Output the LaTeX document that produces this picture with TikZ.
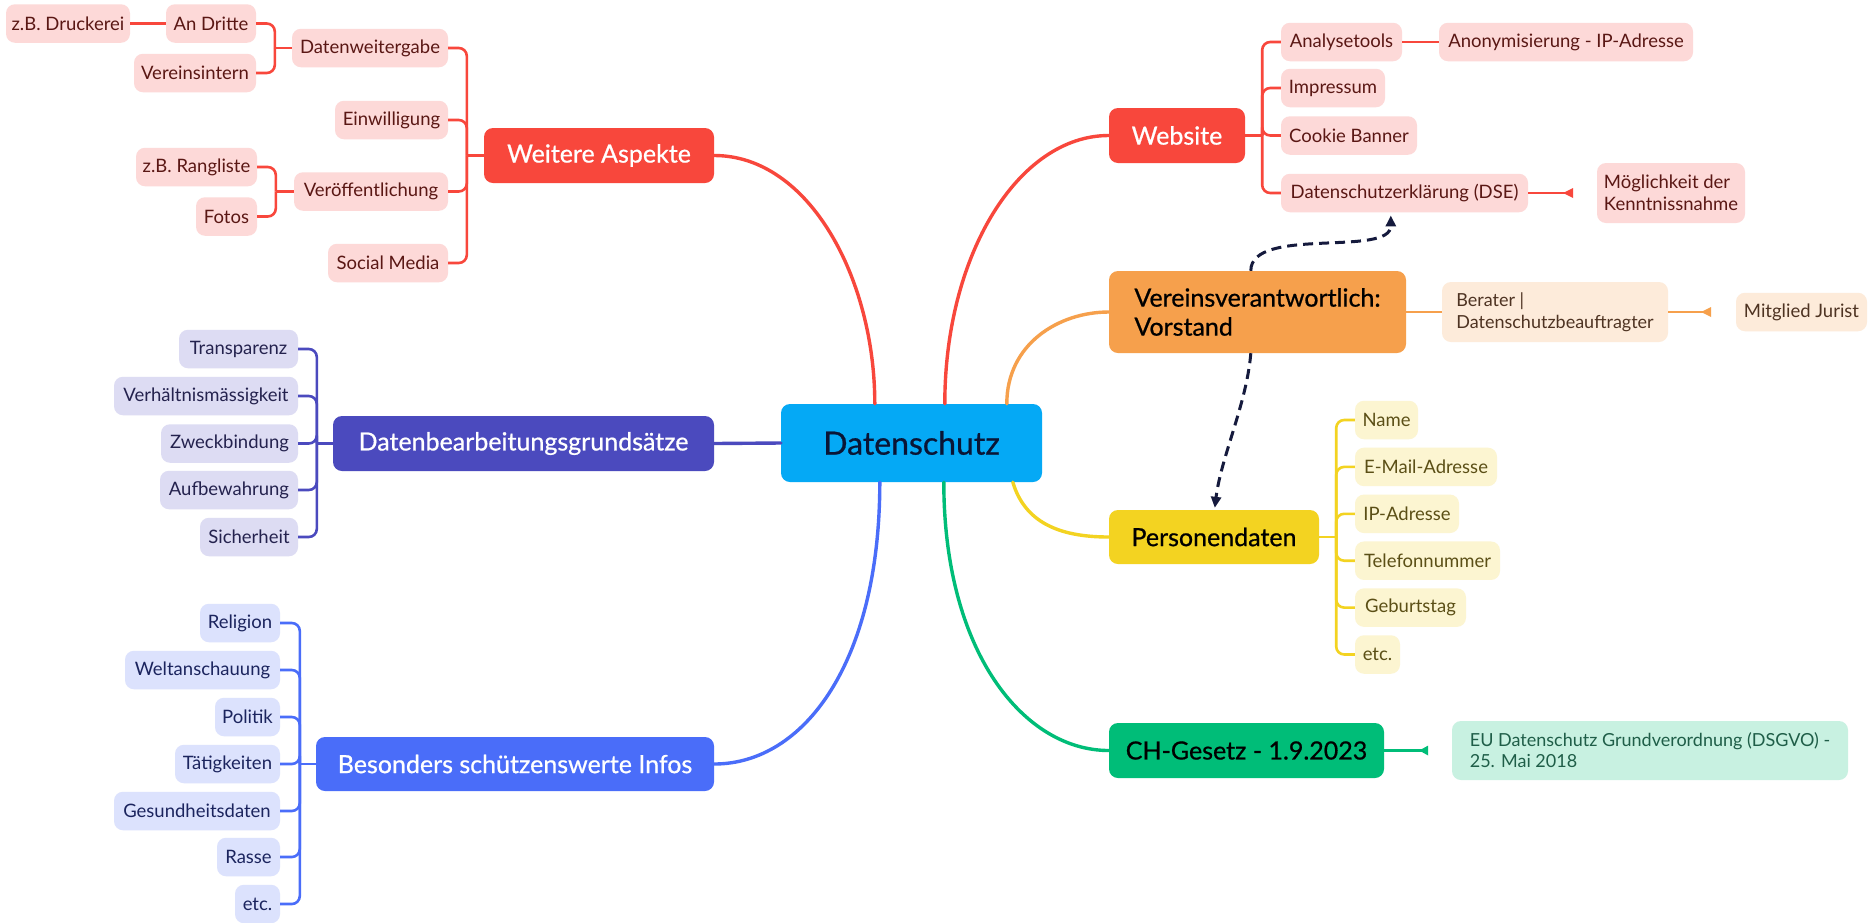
\documentclass[tikz,border=0pt]{standalone}
\usepackage{fontspec}
\setmainfont{Lato}
\newfontfamily\medfont{Lato}[FakeBold=0.7]
\usetikzlibrary{arrows.meta}
\definecolor{redm}{HTML}{F8473C}
\definecolor{redl}{HTML}{FDD9D8}
\definecolor{redt}{HTML}{5A1714}
\definecolor{orangem}{HTML}{F6A04C}
\definecolor{orangel}{HTML}{FDEBDA}
\definecolor{oranget}{HTML}{4E3322}
\definecolor{yellowm}{HTML}{F3D321}
\definecolor{yellowl}{HTML}{FCF5D1}
\definecolor{yellowt}{HTML}{5B4F16}
\definecolor{greenm}{HTML}{00BD78}
\definecolor{greenl}{HTML}{C8F1E1}
\definecolor{greent}{HTML}{1F5E48}
\definecolor{purplem}{HTML}{4B4ABE}
\definecolor{purplel}{HTML}{DDDCF3}
\definecolor{purplet}{HTML}{24224E}
\definecolor{bluem}{HTML}{4A6DF9}
\definecolor{bluel}{HTML}{DCE2FD}
\definecolor{bluet}{HTML}{1B245E}
\definecolor{centm}{HTML}{05A9F5}
\definecolor{centt}{HTML}{0A1535}
\definecolor{dashc}{HTML}{151A3D}
\newcommand\kidfont{\fontsize{18.5}{22}\selectfont}
\newcommand\topfont{\medfont\fontsize{25}{29}\selectfont}
\newcommand\cenfont{\medfont\fontsize{32}{36}\selectfont}
\tikzset{
  box/.style={rounded corners=9pt, inner sep=0pt, align=center, minimum height=38.5pt},
  rkid/.style={box, fill=redl, text=redt, font=\kidfont},
  okid/.style={box, fill=orangel, text=oranget, font=\kidfont},
  ykid/.style={box, fill=yellowl, text=yellowt, font=\kidfont},
  gkid/.style={box, fill=greenl, text=greent, font=\kidfont},
  pkid/.style={box, fill=purplel, text=purplet, font=\kidfont},
  bkid/.style={box, fill=bluel, text=bluet, font=\kidfont},
  topic/.style={box, font=\topfont, minimum height=55pt},
  mainline/.style={line width=3.4pt, line cap=round},
  subline/.style={line width=2.6pt, rounded corners=8pt},
  dashline/.style={dashc, line width=3pt, dash pattern=on 10pt off 6pt,
    -{Triangle[length=11pt,width=10pt]}},
}
\begin{document}
\begin{tikzpicture}[x=1pt,y=-1pt]
\useasboundingbox (0,0) rectangle (1870,922);
\fill[white] (0,0) rectangle (1870,922);

% central
\node[box, fill=centm, text=centt, font=\cenfont, minimum width=261pt, minimum height=78pt] (ds) at (911.5,443) {Datenschutz};

% main topics
\node[topic, fill=redm, text=white, minimum width=230pt] (weitere) at (599,155.5) {Weitere Aspekte};
\node[topic, fill=redm, text=white, minimum width=136pt] (web) at (1177,135.5) {Website};
\node[topic, fill=orangem, text=black, align=left, minimum width=297pt, minimum height=82pt, font=\medfont\fontsize{25}{29}\selectfont] (vor) at (1257.5,312) {Vereinsverantwortlich:\\Vorstand};
\node[topic, fill=yellowm, text=black, minimum width=210pt, minimum height=54pt] (pers) at (1214,537) {Personendaten};
\node[topic, fill=greenm, text=black, minimum width=275pt] (ch) at (1246.5,750.5) {CH-Gesetz - 1.9.2023};
\node[topic, fill=purplem, text=white, minimum width=381pt] (dbg) at (523.5,443.5) {Datenbearbeitungsgrundsätze};
\node[topic, fill=bluem, text=white, minimum width=398pt, minimum height=54pt] (bes) at (515,764) {Besonders schützenswerte Infos};

% Weitere Aspekte children
\node[rkid, minimum width=124pt] (druck) at (68,23.5) {z.B. Druckerei};
\node[rkid, minimum width=90pt] (andr) at (211,23.5) {An Dritte};
\node[rkid, minimum width=122pt] (verein) at (195,73) {Vereinsintern};
\node[rkid, minimum width=156pt] (dwg) at (370,48) {Datenweitergabe};
\node[rkid, minimum width=113pt] (einw) at (391.5,120) {Einwilligung};
\node[rkid, minimum width=121pt] (rang) at (196.5,167) {z.B. Rangliste};
\node[rkid, minimum width=61pt] (fotos) at (226.5,216.5) {Fotos};
\node[rkid, minimum width=154pt] (veroff) at (371,191.5) {Veröffentlichung};
\node[rkid, minimum width=120pt] (social) at (388,263) {Social Media};

% Website children
\node[rkid, minimum width=121pt] (anal) at (1341.5,42) {Analysetools};
\node[rkid, minimum width=254pt] (anon) at (1566,42) {Anonymisierung - IP-Adresse};
\node[rkid, minimum width=104pt] (impr) at (1333,88) {Impressum};
\node[rkid, minimum width=136pt] (cookie) at (1349,135.5) {Cookie Banner};
\node[rkid, minimum width=247pt] (dse) at (1404.5,193) {Datenschutzerklärung (DSE)};
\node[rkid, align=left, minimum width=148pt, minimum height=60pt] (mogl) at (1671,193) {Möglichkeit der\\Kenntnissnahme};

% Vorstand children
\node[okid, align=left, minimum width=226pt, minimum height=60pt, font=\fontsize{18}{22}\selectfont] (berater) at (1555,312) {Berater |\\Datenschutzbeauftragter};
\node[okid, minimum width=131pt] (jurist) at (1801.5,312) {Mitglied Jurist};

% Personendaten children
\node[ykid, minimum width=63pt] (name) at (1386.5,420) {Name};
\node[ykid, minimum width=142pt] (email) at (1426,466.9) {E-Mail-Adresse};
\node[ykid, minimum width=104pt] (ip) at (1407,513.8) {IP-Adresse};
\node[ykid, minimum width=145pt] (tel) at (1427.5,560.7) {Telefonnummer};
\node[ykid, minimum width=111pt] (geb) at (1410.5,607.6) {Geburtstag};
\node[ykid, minimum width=45pt] (etcy) at (1377.5,654.5) {etc.};

% CH children
\node[gkid, align=left, minimum width=396pt, minimum height=59pt, font=\fontsize{18}{21}\selectfont] (eu) at (1650,750.5) {EU Datenschutz Grundverordnung (DSGVO) -\\25. Mai 2018};

% DBG children
\node[pkid, minimum width=119pt] (transp) at (238.5,349) {Transparenz};
\node[pkid, minimum width=184pt] (verh) at (206,396) {Verhältnismässigkeit};
\node[pkid, minimum width=137pt] (zweck) at (229.5,443.5) {Zweckbindung};
\node[pkid, minimum width=138pt] (aufb) at (229,490) {Aufbewahrung};
\node[pkid, minimum width=98pt] (sich) at (249,537) {Sicherheit};

% Besonders children
\node[bkid, minimum width=80pt] (rel) at (240,623) {Religion};
\node[bkid, minimum width=155pt] (welt) at (202.5,670) {Weltanschauung};
\node[bkid, minimum width=65pt] (pol) at (247.5,717) {Politik};
\node[bkid, minimum width=105pt] (tat) at (227.5,764) {Tätigkeiten};
\node[bkid, minimum width=166pt] (ges) at (197,811) {Gesundheitsdaten};
\node[bkid, minimum width=63pt] (rasse) at (248.5,857) {Rasse};
\node[bkid, minimum width=45pt] (etcb) at (257.5,904) {etc.};

% main connectors
\draw[mainline, redm] (weitere.east) .. controls +(95,0) and +(0,-125) .. ([xshift=94pt]ds.north west);
\draw[mainline, redm] ([xshift=164pt]ds.north west) .. controls +(0,-150) and +(-90,0) .. (web.west);
\draw[mainline, orangem] ([xshift=226pt]ds.north west) .. controls +(0,-60) and +(-50,0) .. (vor.west);
\draw[mainline, yellowm] ([xshift=232pt]ds.south west) .. controls +(12,40) and +(-50,0) .. (pers.west);
\draw[mainline, greenm] ([xshift=163pt]ds.south west) .. controls +(0,170) and +(-85,0) .. (ch.west);
\draw[mainline, bluem] ([xshift=99pt]ds.south west) .. controls +(0,180) and +(90,0) .. (bes.east);
\draw[mainline, purplem] (ds.west) -- (dbg.east);

% Weitere Aspekte subtree
\coordinate (wA) at ([xshift=-17pt]weitere.west);
\draw[subline, redm] (weitere.west) -- (wA);
\foreach \c in {dwg,einw,veroff,social} \draw[subline, redm] (wA) |- (\c.east);
\coordinate (wB) at ([xshift=-17pt]dwg.west);
\draw[subline, redm] (dwg.west) -- (wB);
\foreach \c in {andr,verein} \draw[subline, redm] (wB) |- (\c.east);
\coordinate (wC) at ([xshift=-18pt]veroff.west);
\draw[subline, redm] (veroff.west) -- (wC);
\foreach \c in {rang,fotos} \draw[subline, redm] (wC) |- (\c.east);
\draw[subline, redm] (andr.west) -- (druck.east);

% Website subtree
\coordinate (wD) at ([xshift=17pt]web.east);
\draw[subline, redm] (web.east) -- (wD);
\foreach \c in {anal,impr,cookie,dse} \draw[subline, redm] (wD) |- (\c.west);
\draw[subline, redm] (anal.east) -- (anon.west);
\coordinate (t1) at ([xshift=45pt]dse.east);
\draw[subline, redm] (dse.east) -- (t1);
\fill[redm] (t1) ++(0,-5) -- ++(0,10) -- ++(-10,-5) -- cycle;

% Vorstand subtree
\draw[subline, orangem] (vor.east) -- (berater.west);
\coordinate (t2) at ([xshift=43pt]berater.east);
\draw[subline, orangem] (berater.east) -- (t2);
\fill[orangem] (t2) ++(0,-5) -- ++(0,10) -- ++(-10,-5) -- cycle;

% Personendaten subtree
\coordinate (wE) at ([xshift=17pt]pers.east);
\draw[subline, yellowm] (pers.east) -- (wE);
\foreach \c in {name,email,ip,tel,geb,etcy} \draw[subline, yellowm] (wE) |- (\c.west);

% CH subtree
\coordinate (t3) at ([xshift=44pt]ch.east);
\draw[subline, greenm] (ch.east) -- (t3);
\fill[greenm] (t3) ++(0,-5) -- ++(0,10) -- ++(-9,-5) -- cycle;

% DBG subtree
\coordinate (wF) at ([xshift=-16pt]dbg.west);
\draw[subline, purplem] (dbg.west) -- (wF);
\foreach \c in {transp,verh,zweck,aufb,sich} \draw[subline, purplem] (wF) |- (\c.east);

% Besonders subtree
\coordinate (wG) at ([xshift=-16pt]bes.west);
\draw[subline, bluem] (bes.west) -- (wG);
\foreach \c in {rel,welt,pol,tat,ges,rasse,etcb} \draw[subline, bluem] (wG) |- (\c.east);

% dashed relations
\draw[dashline] ([xshift=142pt]vor.north west) .. controls +(0,-45) and +(0,42) .. ([xshift=110pt,yshift=-3pt]dse.south west);
\draw[dashline] ([xshift=142pt]vor.south west) .. controls +(-4,50) and +(6,-50) .. ([xshift=106pt,yshift=2pt]pers.north west);
\end{tikzpicture}
\end{document}
